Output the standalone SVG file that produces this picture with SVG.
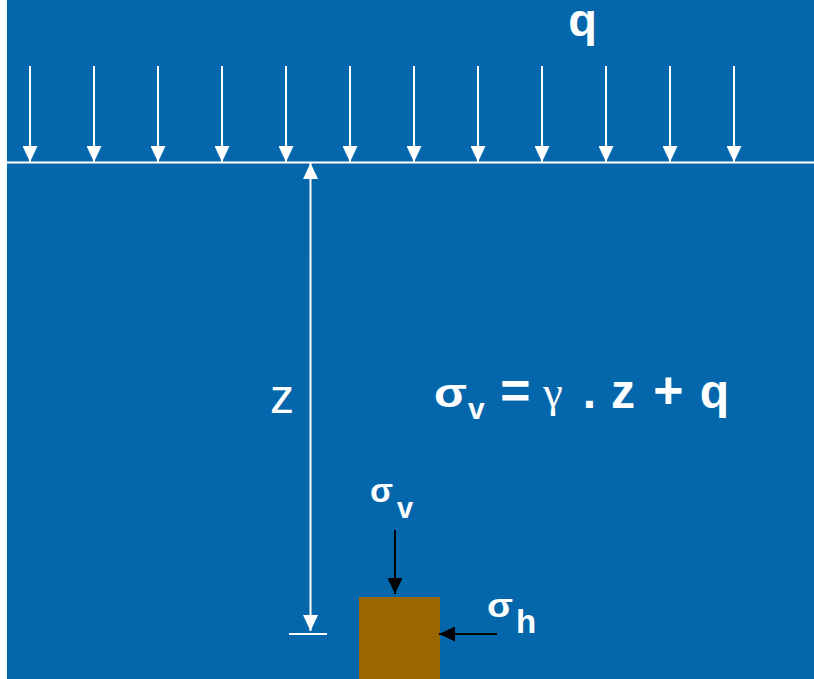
<svg xmlns="http://www.w3.org/2000/svg" width="814" height="679" viewBox="0 0 814 679">
<defs>
<style>
.w{stroke:#fff;stroke-width:2;fill:none}
.k{stroke:#000;stroke-width:2;fill:none}
.t{fill:#fff;font-family:"Liberation Sans",Arial,sans-serif}
.b{font-weight:bold}
.g{font-family:"Liberation Serif","DejaVu Serif",serif}
</style>
<marker id="hw" viewBox="0 0 16 15" refX="16" refY="7.5" markerWidth="16" markerHeight="15" markerUnits="userSpaceOnUse" orient="auto">
<path d="M0,0 L16,7.5 L0,15 Z" fill="#fff"/>
</marker>
<marker id="hk" viewBox="0 0 16 15" refX="16" refY="7.5" markerWidth="16" markerHeight="15" markerUnits="userSpaceOnUse" orient="auto">
<path d="M0,0 L16,7.5 L0,15 Z" fill="#000"/>
</marker>
</defs>
<rect x="0" y="0" width="814" height="679" fill="#fff"/>
<rect x="7" y="0" width="807" height="679" fill="#0467ac"/>
<g id="load">
<text class="t b" x="582.5" y="36" font-size="47" text-anchor="middle">q</text>
<g class="w">
<line x1="30" y1="66" x2="30" y2="162" marker-end="url(#hw)"/>
<line x1="94" y1="66" x2="94" y2="162" marker-end="url(#hw)"/>
<line x1="158" y1="66" x2="158" y2="162" marker-end="url(#hw)"/>
<line x1="222" y1="66" x2="222" y2="162" marker-end="url(#hw)"/>
<line x1="286" y1="66" x2="286" y2="162" marker-end="url(#hw)"/>
<line x1="350" y1="66" x2="350" y2="162" marker-end="url(#hw)"/>
<line x1="414" y1="66" x2="414" y2="162" marker-end="url(#hw)"/>
<line x1="478" y1="66" x2="478" y2="162" marker-end="url(#hw)"/>
<line x1="542" y1="66" x2="542" y2="162" marker-end="url(#hw)"/>
<line x1="606" y1="66" x2="606" y2="162" marker-end="url(#hw)"/>
<line x1="670" y1="66" x2="670" y2="162" marker-end="url(#hw)"/>
<line x1="734" y1="66" x2="734" y2="162" marker-end="url(#hw)"/>
</g>
</g>
<g id="ground">
<line class="w" x1="7" y1="162.5" x2="814" y2="162.5"/>
</g>
<g id="depth">
<line class="w" x1="310.5" y1="250" x2="310.5" y2="163" marker-end="url(#hw)"/>
<line class="w" x1="310.5" y1="250" x2="310.5" y2="631" marker-end="url(#hw)"/>
<line class="w" x1="289" y1="634" x2="327" y2="634"/>
<text class="t" x="282" y="413" font-size="48" text-anchor="middle">z</text>
</g>
<g id="formula">
<text class="t b" x="434" y="407" font-size="40" textLength="33" lengthAdjust="spacingAndGlyphs">σ</text>
<text class="t b" x="468" y="419" font-size="30">v</text>
<text class="t b" x="515.5" y="408" font-size="52" text-anchor="middle">=</text>
<text class="t g" x="553" y="407" font-size="44" text-anchor="middle">γ</text>
<text class="t b" x="589.5" y="408" font-size="48" text-anchor="middle">.</text>
<text class="t b" x="623" y="408" font-size="48" text-anchor="middle">z</text>
<text class="t b" x="668.5" y="408" font-size="52" text-anchor="middle">+</text>
<text class="t b" x="714.5" y="408" font-size="48" text-anchor="middle">q</text>
</g>
<g id="element">
<rect x="359" y="597" width="81" height="90" fill="#996600"/>
</g>
<g id="sigma-v">
<text class="t b" x="370" y="502" font-size="33" textLength="23" lengthAdjust="spacingAndGlyphs">σ</text>
<text class="t b" x="397" y="518" font-size="29">v</text>
<line class="k" x1="395" y1="530" x2="395" y2="594" marker-end="url(#hk)"/>
</g>
<g id="sigma-h">
<text class="t b" x="487" y="617" font-size="33" textLength="26" lengthAdjust="spacingAndGlyphs">σ</text>
<text class="t b" x="516" y="633" font-size="33">h</text>
<line class="k" x1="497" y1="634" x2="439" y2="634" marker-end="url(#hk)"/>
</g>
</svg>
